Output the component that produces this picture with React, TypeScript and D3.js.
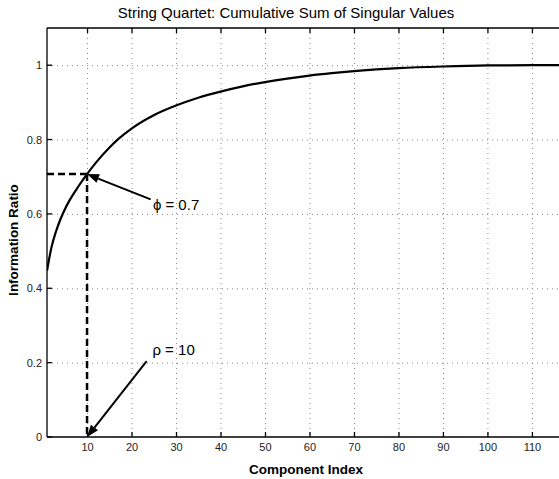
import React from "react";
import * as d3 from "d3";

// Cumulative share of the singular values, by component index
const componentIndex = [1, 2, 3, 4, 5, 6, 8, 10, 12, 15, 17, 20, 25, 30, 35, 40, 45, 50, 55, 60, 65, 70, 75, 80, 90, 100, 110, 120, 128];
const infoRatio = [0.447, 0.51, 0.552, 0.585, 0.612, 0.635, 0.673, 0.707, 0.738, 0.778, 0.801, 0.8295, 0.8655, 0.8915, 0.9125, 0.929, 0.943, 0.9545, 0.964, 0.972, 0.9785, 0.984, 0.9885, 0.992, 0.9965, 0.9993, 1.0, 1.0, 1.0];

const xTicks = [10, 20, 30, 40, 50, 60, 70, 80, 90, 100, 110, 120];
const yTicks = [0, 0.2, 0.4, 0.6, 0.8, 1];

const phi = 0.7;
const rho = 10;

const W = 559;
const H = 479;
const FONT = "'Liberation Sans', Arial, Helvetica, sans-serif";

export default function App() {
  const x = d3.scaleLinear().domain([1, 128]).range([47, 612]);
  const y = d3.scaleLinear().domain([0, 1.1]).range([437, 28]);
  const [x0, x1] = x.range();
  const [yb, yt] = y.range();

  const pts: [number, number][] = componentIndex.map((c, i) => [c, infoRatio[i]]);
  const line = d3
    .line<[number, number]>()
    .x((d) => x(d[0]))
    .y((d) => y(d[1]))
    .curve(d3.curveMonotoneX);

  const rhoValue = infoRatio[componentIndex.indexOf(rho)];

  // arrow from (tail) to (head), in data coordinates
  const arrow = (tx: number, ty: number, hx: number, hy: number, key: string) => {
    const ax = x(tx), ay = y(ty), bx = x(hx), by = y(hy);
    const ang = Math.atan2(by - ay, bx - ax);
    const len = 12, half = 4.5;
    const cx = bx - len * Math.cos(ang), cy = by - len * Math.sin(ang);
    const px = -Math.sin(ang) * half, py = Math.cos(ang) * half;
    return (
      <g key={key}>
        <line x1={ax} y1={ay} x2={cx} y2={cy} stroke="#000" strokeWidth={2} />
        <polygon points={`${bx},${by} ${cx + px},${cy + py} ${cx - px},${cy - py}`} fill="#000" />
      </g>
    );
  };

  const visibleX = xTicks.filter((t) => x(t) <= W);

  return (
    <svg width={W} height={H} style={{ position: "absolute", left: 0, top: 0, background: "#fff" }} fontFamily={FONT}>
      <rect x={0} y={0} width={W} height={H} fill="#fff" />
      <defs>
        <clipPath id="plotArea">
          <rect x={x0} y={yt} width={x1 - x0} height={yb - yt} />
        </clipPath>
      </defs>

      {/* grid */}
      <g stroke="#888" strokeWidth={1} strokeDasharray="1,4">
        {xTicks.map((t) => (
          <line key={"gx" + t} x1={x(t) + 0.5} x2={x(t) + 0.5} y1={yt} y2={yb} />
        ))}
        {yTicks.filter((t) => t > 0).map((t) => (
          <line key={"gy" + t} x1={x0} x2={x1} y1={y(t) + 0.5} y2={y(t) + 0.5} />
        ))}
      </g>

      {/* curve */}
      <path d={line(pts) ?? ""} fill="none" stroke="#000" strokeWidth={2.2} clipPath="url(#plotArea)" />

      {/* threshold guides */}
      <g stroke="#000" strokeWidth={2.5} strokeDasharray="7,4" fill="none">
        <line x1={x(rho)} x2={x(rho)} y1={y(rhoValue)} y2={y(0)} />
        <line x1={x0} x2={x(rho)} y1={y(rhoValue)} y2={y(rhoValue)} />
      </g>

      {/* axes box */}
      <g stroke="#000" strokeWidth={1.3} fill="none">
        <line x1={x0} x2={x1} y1={yb} y2={yb} />
        <line x1={x0} x2={x1} y1={yt} y2={yt} />
        <line x1={x0} x2={x0} y1={yt} y2={yb} />
        {xTicks.map((t) => (
          <g key={"tx" + t}>
            <line x1={x(t) + 0.5} x2={x(t) + 0.5} y1={yb} y2={yb - 5} />
            <line x1={x(t) + 0.5} x2={x(t) + 0.5} y1={yt} y2={yt + 5} />
          </g>
        ))}
        {yTicks.map((t) => (
          <line key={"ty" + t} x1={x0} x2={x0 + 5} y1={y(t)} y2={y(t)} />
        ))}
      </g>

      {/* tick labels */}
      <g fontSize={11} fill="#222">
        {visibleX.map((t) => (
          <text key={"lx" + t} x={x(t) + 0.5} y={yb + 14} textAnchor="middle">
            {t}
          </text>
        ))}
        {yTicks.map((t) => (
          <text key={"ly" + t} x={x0 - 5} y={y(t) + 4} textAnchor="end">
            {t}
          </text>
        ))}
      </g>

      {/* annotations */}
      {arrow(24.3, 0.639, rho, rhoValue, "phiArrow")}
      {arrow(23.4, 0.204, rho, 0, "rhoArrow")}
      <text x={x(24.8)} y={y(0.61)} fontSize={15} fill="#000">
        {"\u03d5 = " + phi}
      </text>
      <text x={x(24.7)} y={y(0.221)} fontSize={15} fill="#000">
        {"\u03c1 = " + rho}
      </text>

      {/* titles */}
      <text x={286} y={18} textAnchor="middle" fontSize={15} fill="#000">
        String Quartet: Cumulative Sum of Singular Values
      </text>
      <text x={306} y={474} textAnchor="middle" fontSize={13.5} fontWeight="bold" fill="#000">
        Component Index
      </text>
      <text transform={`translate(18,240) rotate(-90)`} textAnchor="middle" fontSize={13.5} fontWeight="bold" fill="#000">
        Information Ratio
      </text>
    </svg>
  );
}
